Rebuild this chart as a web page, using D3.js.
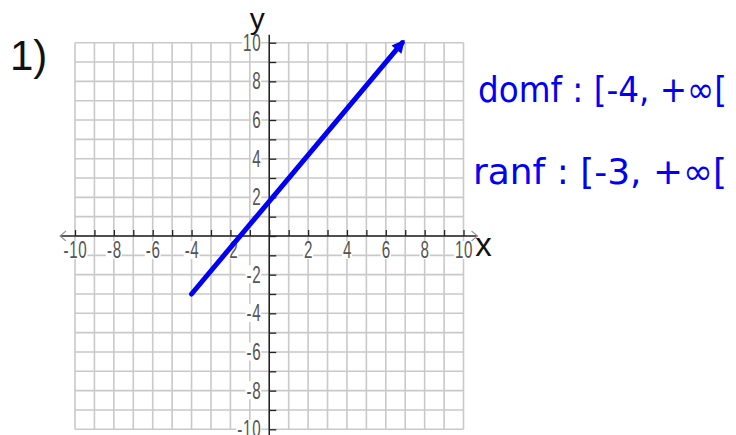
<!DOCTYPE html>
<html>
<head>
<meta charset="utf-8">
<script src="https://cdn.jsdelivr.net/npm/d3@7"></script>
<style>
  html, body { margin: 0; padding: 0; background: #fff; }
  svg { display: block; }
</style>
</head>
<body>
<svg id="chart" width="736" height="435"></svg>
<script>
// ---- data ----
const xDomain = [-10, 10];
const yDomain = [-10, 10];
const gridValues = d3.range(-10, 11);          // integer grid lines
const labelValues = [-10, -8, -6, -4, -2, 2, 4, 6, 8, 10];
const segmentX = [-4, 6.85];                   // start (closed) -> arrow end
const segmentY = [-3, 10];
const problemLabel = "1)";
const axisNames = ["x", "y"];
const notes = ["domf : [-4, +∞[", "ranf : [-3, +∞["];

// ---- layout ----
const svg = d3.select("#chart");
const x = d3.scaleLinear().domain(xDomain).range([75, 463.5]);
const y = d3.scaleLinear().domain(yDomain).range([429.3, 42.7]);
const gridColor = "#c9c9c9";
const axisColor = "#222";
const labelColor = "#555";
const FONT = "'Liberation Sans', Arial, sans-serif";
const sx = 0.66;   // condensed tick label look

// grid
const grid = svg.append("g");
grid.selectAll("line.v").data(gridValues).join("line")
  .attr("x1", d => x(d)).attr("x2", d => x(d))
  .attr("y1", y(10)).attr("y2", y(-10))
  .attr("stroke", gridColor).attr("stroke-width", 1.6);
grid.selectAll("line.h").data(gridValues).join("line")
  .attr("y1", d => y(d)).attr("y2", d => y(d))
  .attr("x1", x(-10)).attr("x2", x(10))
  .attr("stroke", gridColor).attr("stroke-width", 1.6);

// axis lines
svg.append("line")
  .attr("x1", x(-10) - 15).attr("x2", x(10) + 14)
  .attr("y1", y(0)).attr("y2", y(0))
  .attr("stroke", axisColor).attr("stroke-width", 1.5);
svg.append("line")
  .attr("x1", x(0)).attr("x2", x(0))
  .attr("y1", y(10) - 8).attr("y2", 435)
  .attr("stroke", axisColor).attr("stroke-width", 1.5);

// x-axis arrowheads (open, gray)
const ax0 = x(-10) - 15, ax1 = x(10) + 14, ay = y(0);
svg.append("path")
  .attr("d", `M${ax0 + 6},${ay - 5} L${ax0},${ay} L${ax0 + 6},${ay + 5}`)
  .attr("fill", "none").attr("stroke", "#999").attr("stroke-width", 1.2);
svg.append("path")
  .attr("d", `M${ax1 - 6},${ay - 5} L${ax1},${ay} L${ax1 - 6},${ay + 5}`)
  .attr("fill", "none").attr("stroke", "#999").attr("stroke-width", 1.2);

const fmt = d => labelValues.includes(d) ? String(d) : "";

// x axis ticks + labels
const xAxis = d3.axisBottom(x).tickValues(gridValues).tickFormat(fmt)
  .tickSizeInner(-6).tickSizeOuter(0).tickPadding(6);
const gx = svg.append("g").attr("transform", `translate(0,${y(0)})`).call(xAxis)
  .attr("font-size", 23).attr("font-family", FONT);
gx.select(".domain").remove();
gx.selectAll(".tick line").attr("stroke", axisColor).attr("stroke-width", 1.3);
gx.selectAll(".tick text").attr("fill", labelColor)
  .attr("letter-spacing", 1)
  .attr("transform", `scale(${sx},1)`);

// y axis ticks + labels
const yAxis = d3.axisLeft(y).tickValues(gridValues).tickFormat(fmt)
  .tickSizeInner(-7).tickSizeOuter(0).tickPadding(0);
const gy = svg.append("g").attr("transform", `translate(${x(0)},0)`).call(yAxis)
  .attr("font-size", 23).attr("font-family", FONT);
gy.select(".domain").remove();
gy.selectAll(".tick line").attr("stroke", axisColor).attr("stroke-width", 1.3);
gy.selectAll(".tick text").attr("fill", labelColor)
  .attr("x", 0)
  .attr("letter-spacing", 1)
  .attr("transform", `translate(-8,0) scale(${sx},1)`);

// white backgrounds behind tick labels
[[gx, 0], [gy, -8]].forEach(([g, off]) => {
  g.selectAll(".tick").each(function() {
    const t = d3.select(this).select("text");
    if (!t.text()) return;
    const bb = t.node().getBBox();
    d3.select(this).insert("rect", "text")
      .attr("x", off + bb.x * sx - 1).attr("y", bb.y + 4)
      .attr("width", bb.width * sx + 1).attr("height", bb.height - 8)
      .attr("fill", "#fff");
  });
});

// axis names
svg.append("text").attr("x", x(0) - 12).attr("y", 29)
  .attr("text-anchor", "middle")
  .style("font-family", FONT)
  .style("font-size", "30px").attr("fill", "#111").text(axisNames[1]);
svg.append("text").attr("x", x(10) + 20).attr("y", y(0) + 20)
  .attr("text-anchor", "middle")
  .style("font-family", FONT)
  .style("font-size", "33px").attr("fill", "#111").text(axisNames[0]);

// problem number
svg.append("text").attr("x", 10).attr("y", 70)
  .style("font-family", FONT)
  .style("font-size", "42px").attr("fill", "#111").text(problemLabel);

// the function's graph: segment with arrow
const blue = "#0000f5";
const defs = svg.append("defs");
defs.append("marker").attr("id", "arr")
  .attr("viewBox", "0 0 10 10").attr("refX", 7).attr("refY", 5)
  .attr("markerWidth", 2.8).attr("markerHeight", 2.6)
  .attr("markerUnits", "strokeWidth")
  .attr("orient", "auto")
  .append("path").attr("d", "M0,0 L10,5 L0,10 Z").attr("fill", blue);

const pts = segmentX.map((d, i) => [d, segmentY[i]]);
svg.append("path")
  .attr("d", d3.line().x(d => x(d[0])).y(d => y(d[1]))(pts))
  .attr("fill", "none").attr("stroke", blue).attr("stroke-width", 5)
  .attr("stroke-linecap", "round")
  .attr("marker-end", "url(#arr)");

// handwritten notes
const noteY = [102, 184];
const noteX = [478, 473];
notes.forEach((n, i) => {
  svg.append("text").attr("x", noteX[i]).attr("y", noteY[i])
    .style("font-family", "'DejaVu Sans', sans-serif")
    .style("font-size", "36px")
    .attr("fill", blue)
    .attr("textLength", 727 - noteX[i])
    .attr("lengthAdjust", "spacingAndGlyphs")
    .text(n);
});
</script>
</body>
</html>
